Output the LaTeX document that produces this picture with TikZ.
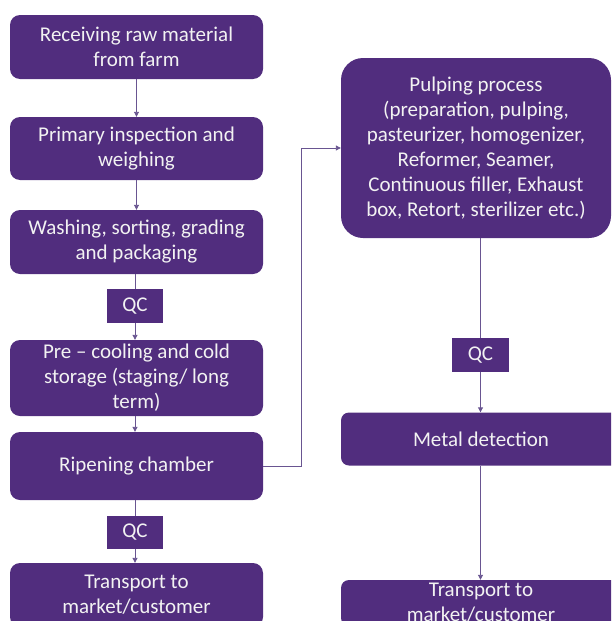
\documentclass[tikz,border=0pt]{standalone}
\usepackage{fontspec}
\setmainfont{Carlito}
\usetikzlibrary{arrows.meta}
\definecolor{pc}{RGB}{81,45,126}
\definecolor{lc}{RGB}{105,85,145}
\begin{document}
\begin{tikzpicture}[x=1pt,y=-1pt,
  box/.style={fill=pc, text=white!95!black, rounded corners=10pt, align=center, inner sep=0pt,
    font=\fontsize{21}{25}\selectfont},
  qcbox/.style={fill=pc, text=white!95!black, inner sep=0pt, font=\fontsize{21}{25}\selectfont},
  conn/.style={draw=lc, line width=0.9pt},
  arr/.style={conn, -{Triangle[length=5pt,width=5pt]}}]
\useasboundingbox (0,0) rectangle (611,621);
\begin{scope}
\clip (0,0) rectangle (611,621);
% left column
\node[box, minimum width=253pt, minimum height=64pt] (b1) at (136.5,47) {Receiving raw material\\from farm};
\node[box, minimum width=253pt, minimum height=63pt] (b2) at (136.5,148.5) {Primary inspection and\\weighing};
\node[box, minimum width=253pt, minimum height=64pt] (b3) at (136.5,242) {Washing, sorting, grading\\and packaging};
\node[qcbox, minimum width=56pt, minimum height=34pt] (q1) at (135,306) {QC};
\node[box, minimum width=253pt, minimum height=76pt] (b4) at (136.5,378) {Pre -- cooling and cold\\storage (staging/ long\\term)};
\node[box, minimum width=253pt, minimum height=68pt] (rip) at (136.5,466) {Ripening chamber};
\node[qcbox, minimum width=56pt, minimum height=33pt] (q2) at (135,532.5) {QC};
\node[box, minimum width=253pt, minimum height=64pt] (tl) at (136.5,595) {Transport to\\market/customer};
% right column
\node[box, rounded corners=22pt, minimum width=270pt, minimum height=180pt] (pulp) at (476,148) {Pulping process\\(preparation, pulping,\\pasteurizer, homogenizer,\\Reformer, Seamer,\\Continuous filler, Exhaust\\box, Retort, sterilizer etc.)};
\node[qcbox, minimum width=57pt, minimum height=34pt] (q3) at (480.5,355) {QC};
\node[box, rounded corners=8pt, minimum width=280pt, minimum height=53pt] (md) at (481,439) {Metal detection};
\node[box, rounded corners=8pt, minimum width=280pt, minimum height=46pt] (tr) at (481,603) {Transport to\\market/customer};
\coordinate (c1) at (301,466);
\coordinate (c2) at (301,148);
% connectors
\draw[arr] (b1) -- (b2);
\draw[arr] (b2) -- (b3);
\draw[conn] (b3.south -| q1) -- (q1);
\draw[arr] (q1) -- (b4.north -| q1);
\draw[arr] (b4.south -| q1) -- (rip.north -| q1);
\draw[conn] (rip.south -| q2) -- (q2);
\draw[arr] (q2) -- (tl.north -| q2);
\draw[arr] (rip.east) -- (c1) -- (c2) -- (pulp.west);
\draw[conn] (pulp.south -| q3) -- (q3);
\draw[arr] (q3) -- (md.north -| q3);
\draw[arr] (md.south -| q3) -- (tr.north -| q3);
\end{scope}
\end{tikzpicture}
\end{document}
